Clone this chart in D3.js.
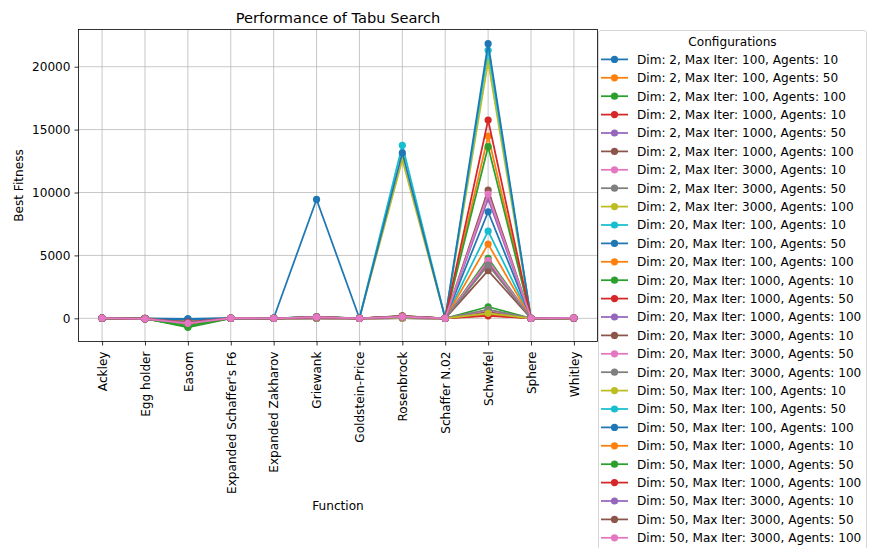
<!DOCTYPE html>
<html>
<head>
<meta charset="utf-8">
<script src="https://cdn.jsdelivr.net/npm/d3@7"></script>
<style>
  html, body { margin: 0; padding: 0; background: #fff; }
  svg { display: block; font-family: "DejaVu Sans", sans-serif; }
</style>
</head>
<body>
<svg id="chart" width="870" height="548"></svg>
<script>
// ---------- data ----------
const functions = ["Ackley", "Egg holder", "Easom", "Expanded Schaffer's F6", "Expanded Zakharov",
  "Griewank", "Goldstein-Price", "Rosenbrock", "Schaffer N.02", "Schwefel", "Sphere", "Whitley"];
const dims = [2, 20, 50];
const maxIters = [100, 1000, 3000];
const agentCounts = [10, 50, 100];
const yTicks = [0, 5000, 10000, 15000, 20000];

// one row per configuration, values in the order of `functions`
const fitness = [
  [2, -10, -40, 1, 0, 5, 3, 20, 0, 300, 0, 5],
  [1, -20, -300, 1, 0, 8, 3, 30, 0, 250, 0, 4],
  [1, -15, -715, 1, 0, 6, 3, 25, 0, 920, 0, 3],
  [1, -10, -350, 1, 0, 5, 3, 20, 0, 200, 0, 3],
  [1, -12, -250, 1, 0, 6, 3, 22, 0, 500, 0, 3],
  [1, -14, -280, 1, 0, 7, 3, 24, 0, 550, 0, 3],
  [1, -16, -400, 1, 0, 6, 3, 26, 0, 650, 0, 3],
  [1, -11, -200, 1, 0, 5, 3, 21, 0, 700, 0, 3],
  [1, -13, -150, 1, 0, 6, 3, 23, 0, 400, 0, 3],
  [8, -30, -300, 5, 2, 60, 3, 100, 0, 6940, 0, 20],
  [8, -35, -50, 5, 2, 90, 3, 150, 0, 8470, 0, 20],
  [8, -30, -350, 5, 2, 70, 3, 120, 0, 5900, 0, 20],
  [8, -30, -650, 5, 2, 60, 3, 130, 0, 4770, 0, 20],
  [8, -30, -450, 5, 2, 65, 3, 110, 0, 4450, 0, 20],
  [8, -30, -300, 5, 2, 60, 3, 100, 0, 4300, 0, 20],
  [8, -30, -350, 5, 2, 70, 3, 120, 0, 3790, 0, 20],
  [8, -30, -400, 5, 2, 80, 3, 110, 0, 4600, 0, 20],
  [8, -30, -300, 5, 2, 60, 3, 160, 0, 4240, 0, 20],
  [12, -40, -250, 10, 5, 120, 3, 12600, 0, 20400, 0, 30],
  [12, -40, -300, 10, 5, 130, 3, 13750, 0, 21300, 0, 30],
  [12, -40, -100, 10, 5, 9450, 3, 13150, 0, 21830, 0, 30],
  [12, -40, -350, 10, 5, 100, 3, 180, 0, 14490, 0, 30],
  [12, -40, -600, 10, 5, 110, 3, 200, 0, 13640, 0, 30],
  [12, -40, -300, 10, 5, 100, 3, 170, 0, 15760, 0, 30],
  [12, -40, -350, 10, 5, 100, 3, 150, 0, 9500, 0, 30],
  [12, -40, -380, 10, 5, 110, 3, 160, 0, 10200, 0, 30],
  [12, -40, -400, 10, 5, 100, 3, 140, 0, 9880, 0, 30]
];

// ---------- build configs ----------
const configs = [];
dims.forEach(d => maxIters.forEach(it => agentCounts.forEach(a => {
  configs.push(`Dim: ${d}, Max Iter: ${it}, Agents: ${a}`);
})));
const series = configs.map((name, i) => ({ name, values: fitness[i] }));

const colors = ["#1f77b4", "#ff7f0e", "#2ca02c", "#d62728", "#9467bd",
  "#8c564b", "#e377c2", "#7f7f7f", "#bcbd22", "#17becf"];
const color = i => colors[i % colors.length];

// ---------- layout ----------
const svg = d3.select("#chart");
const plot = { left: 78.5, right: 597.5, top: 29.5, bottom: 341.5 };
const fontSize = 12.1;

const x = d3.scalePoint().domain(functions)
  .range([plot.left, plot.right]).padding(0.55);

const allVals = fitness.flat();
const [vmin, vmax] = d3.extent(allVals);
const pad = (vmax - vmin) * 0.05;
const y = d3.scaleLinear().domain([vmin - pad, vmax + pad])
  .range([plot.bottom, plot.top]);

// grid
const grid = svg.append("g");
functions.forEach(f => {
  grid.append("line").attr("x1", x(f)).attr("x2", x(f))
    .attr("y1", plot.top).attr("y2", plot.bottom)
    .attr("stroke", "#b0b0b0").attr("stroke-width", 0.7);
});
yTicks.forEach(t => {
  grid.append("line").attr("x1", plot.left).attr("x2", plot.right)
    .attr("y1", y(t)).attr("y2", y(t))
    .attr("stroke", "#b0b0b0").attr("stroke-width", 0.7);
});

// lines + markers
const line = d3.line().x((d, i) => x(functions[i])).y(d => y(d));
const marks = svg.append("g");
series.forEach((s, i) => {
  const g = marks.append("g");
  g.append("path").datum(s.values).attr("d", line)
    .attr("fill", "none").attr("stroke", color(i)).attr("stroke-width", 1.75)
    .attr("stroke-linejoin", "round");
  g.selectAll("circle").data(s.values).join("circle")
    .attr("cx", (d, j) => x(functions[j])).attr("cy", d => y(d))
    .attr("r", 3.6).attr("fill", color(i));
});

// axes frame
svg.append("rect").attr("x", plot.left).attr("y", plot.top)
  .attr("width", plot.right - plot.left).attr("height", plot.bottom - plot.top)
  .attr("fill", "none").attr("stroke", "#000").attr("stroke-width", 0.8);

// x axis
const xAxis = d3.axisBottom(x).tickSize(4).tickPadding(4);
const gx = svg.append("g").attr("transform", `translate(0,${plot.bottom})`).call(xAxis);
gx.select(".domain").remove();
gx.selectAll(".tick line").attr("stroke", "#000").attr("stroke-width", 0.8);
gx.selectAll(".tick text")
  .attr("font-size", fontSize).attr("fill", "#000")
  .attr("font-family", "DejaVu Sans")
  .attr("text-anchor", "end")
  .attr("transform", "translate(0,10) rotate(-90)")
  .attr("x", 0).attr("y", 0).attr("dy", "0.35em");

// y axis
const yAxis = d3.axisLeft(y).tickValues(yTicks).tickFormat(d3.format("d")).tickSize(4).tickPadding(4);
const gy = svg.append("g").attr("transform", `translate(${plot.left},0)`).call(yAxis);
gy.select(".domain").remove();
gy.selectAll(".tick line").attr("stroke", "#000").attr("stroke-width", 0.8);
gy.selectAll(".tick text").attr("font-size", fontSize).attr("fill", "#000")
  .attr("font-family", "DejaVu Sans");

// labels
svg.append("text").attr("x", (plot.left + plot.right) / 2).attr("y", 23)
  .attr("text-anchor", "middle").attr("font-size", 14.6).attr("fill", "#000")
  .text("Performance of Tabu Search");
svg.append("text").attr("x", (plot.left + plot.right) / 2).attr("y", 510)
  .attr("text-anchor", "middle").attr("font-size", fontSize).attr("fill", "#000")
  .text("Function");
svg.append("text")
  .attr("transform", `translate(23,${(plot.top + plot.bottom) / 2}) rotate(-90)`)
  .attr("text-anchor", "middle").attr("font-size", fontSize).attr("fill", "#000")
  .text("Best Fitness");

// legend
const lg = svg.append("g");
const lgX = 598.5, lgY = 30.5, rowH = 18.4, firstRow = 59.4;
lg.append("rect").attr("x", lgX).attr("y", lgY).attr("width", 268).attr("height", 540)
  .attr("rx", 2.5).attr("fill", "rgba(255,255,255,0.8)").attr("stroke", "#cccccc").attr("stroke-width", 0.8);
lg.append("text").attr("x", lgX + 134).attr("y", 45.5).attr("text-anchor", "middle")
  .attr("font-size", fontSize).attr("fill", "#000").text("Configurations");
series.forEach((s, i) => {
  const cy = firstRow + i * rowH;
  lg.append("line").attr("x1", 601).attr("x2", 628).attr("y1", cy).attr("y2", cy)
    .attr("stroke", color(i)).attr("stroke-width", 1.75);
  lg.append("circle").attr("cx", 614.5).attr("cy", cy).attr("r", 3.6).attr("fill", color(i));
  lg.append("text").attr("x", 637).attr("y", cy).attr("dy", "0.36em")
    .attr("font-size", fontSize).attr("fill", "#000").text(s.name);
});
</script>
</body>
</html>
